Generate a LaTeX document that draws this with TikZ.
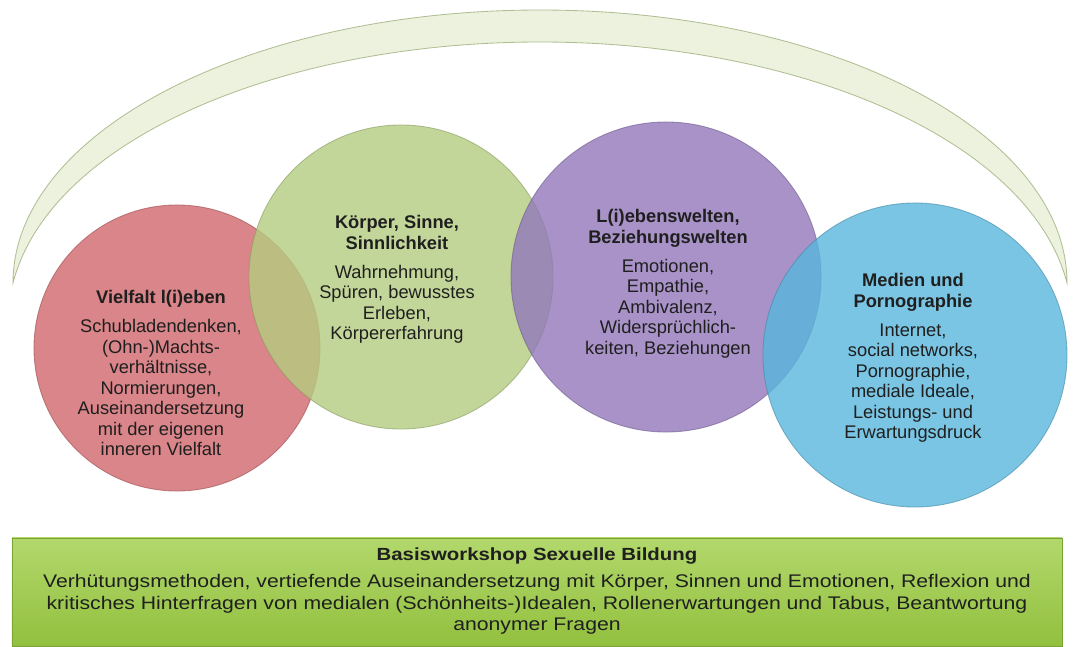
\documentclass[tikz,border=0pt]{standalone}
\usepackage{fontspec}
\setmainfont{Liberation Sans}
\newfontfamily\basisfont[FakeStretch=1.16]{Liberation Sans}
\usepackage{xcolor}
\usetikzlibrary{positioning}

\definecolor{kreisrot}{RGB}{207,102,107}
\definecolor{kreisgruen}{RGB}{180,204,128}
\definecolor{kreislila}{RGB}{146,119,186}
\definecolor{kreisblau}{RGB}{88,182,220}
\definecolor{bogenhell}{RGB}{236,242,222}
\definecolor{bogenrand}{RGB}{176,190,146}
\definecolor{boxoben}{RGB}{178,216,108}
\definecolor{boxunten}{RGB}{146,192,62}

\begin{document}
\begin{tikzpicture}[x=0.025cm, y=-0.025cm,
    % Grundstil der Kreise
    bubble/.style={
        circle,
        inner sep=0pt,
        fill opacity=0.8,
        draw opacity=0.6,
        line width=0.6pt
    },
    % Text in den Kreisen
    bubbletext/.style={
        align=center,
        anchor=north,
        inner sep=0pt,
        text=black!88,
        font=\fontsize{13}{14.6}\selectfont
    },
    % Balken unten
    basebox/.style={
        rectangle,
        minimum width=26.25cm,
        minimum height=2.7cm,
        top color=boxoben,
        bottom color=boxunten,
        draw=boxunten!85!black,
        align=center,
        text=black!88,
        font=\basisfont\fontsize{13}{15.3}\selectfont
    }
]
    \useasboundingbox (0,0) rectangle (1074,646);

    % --- BOGEN ---
    \coordinate (bogenL) at (13,283);
    \coordinate (bogenT) at (540,10);
    \coordinate (bogenR) at (1067,283);
    \coordinate (bogenI) at (540,42);
    \filldraw[fill=bogenhell, draw=bogenrand, line width=0.6pt]
        (bogenL) .. controls (13,132) and (249,10) .. (bogenT)
        .. controls (831,10) and (1067,132) .. (bogenR)
        .. controls (1030,140) and (800,42) .. (bogenI)
        .. controls (280,42) and (50,140) .. (bogenL) -- cycle;

    % --- KREISE ---
    \node[bubble, fill=kreisrot, draw=kreisrot!75!black, minimum size=7.15cm] (vielfalt) at (177,348) {};
    \node[bubble, fill=kreisgruen, draw=kreisgruen!75!black, minimum size=7.6cm] (koerper) at (401,277) {};
    \node[bubble, fill=kreislila, draw=kreislila!75!black, minimum size=7.75cm] (lebenswelten) at (666,277) {};
    \node[bubble, fill=kreisblau, draw=kreisblau!75!black, minimum size=7.6cm] (medien) at (915,355) {};

    % --- TEXTE ---
    \node[bubbletext] (vielfalttext) at (161,290) {\textbf{Vielfalt l(i)eben}\\[6pt]
        Schubladendenken,\\(Ohn-)Machts-\\verhältnisse,\\Normierungen,\\Auseinandersetzung\\mit der eigenen\\inneren Vielfalt};
    \node[bubbletext] (koerpertext) at (397,215) {\textbf{Körper, Sinne,}\\\textbf{Sinnlichkeit}\\[6pt]
        Wahrnehmung,\\Spüren, bewusstes\\Erleben,\\Körpererfahrung};
    \node[bubbletext] (lebensweltentext) at (668,209) {\textbf{L(i)ebenswelten,}\\\textbf{Beziehungswelten}\\[6pt]
        Emotionen,\\Empathie,\\Ambivalenz,\\Widersprüchlich-\\keiten, Beziehungen};
    \node[bubbletext] (medientext) at (913,273) {\textbf{Medien und}\\\textbf{Pornographie}\\[6pt]
        Internet,\\social networks,\\Pornographie,\\mediale Ideale,\\Leistungs- und\\Erwartungsdruck};

    % --- BASISWORKSHOP ---
    \node[basebox] (basis) at (537,592) {{\bfseries\fontsize{12.5}{15.3}\selectfont Basisworkshop Sexuelle Bildung}\\[4pt]
        Verhütungsmethoden, vertiefende Auseinandersetzung mit Körper, Sinnen und Emotionen, Reflexion und\\
        kritisches Hinterfragen von medialen (Schönheits-)Idealen, Rollenerwartungen und Tabus, Beantwortung\\
        anonymer Fragen\rule[-4pt]{0pt}{1pt}};

\end{tikzpicture}
\end{document}
